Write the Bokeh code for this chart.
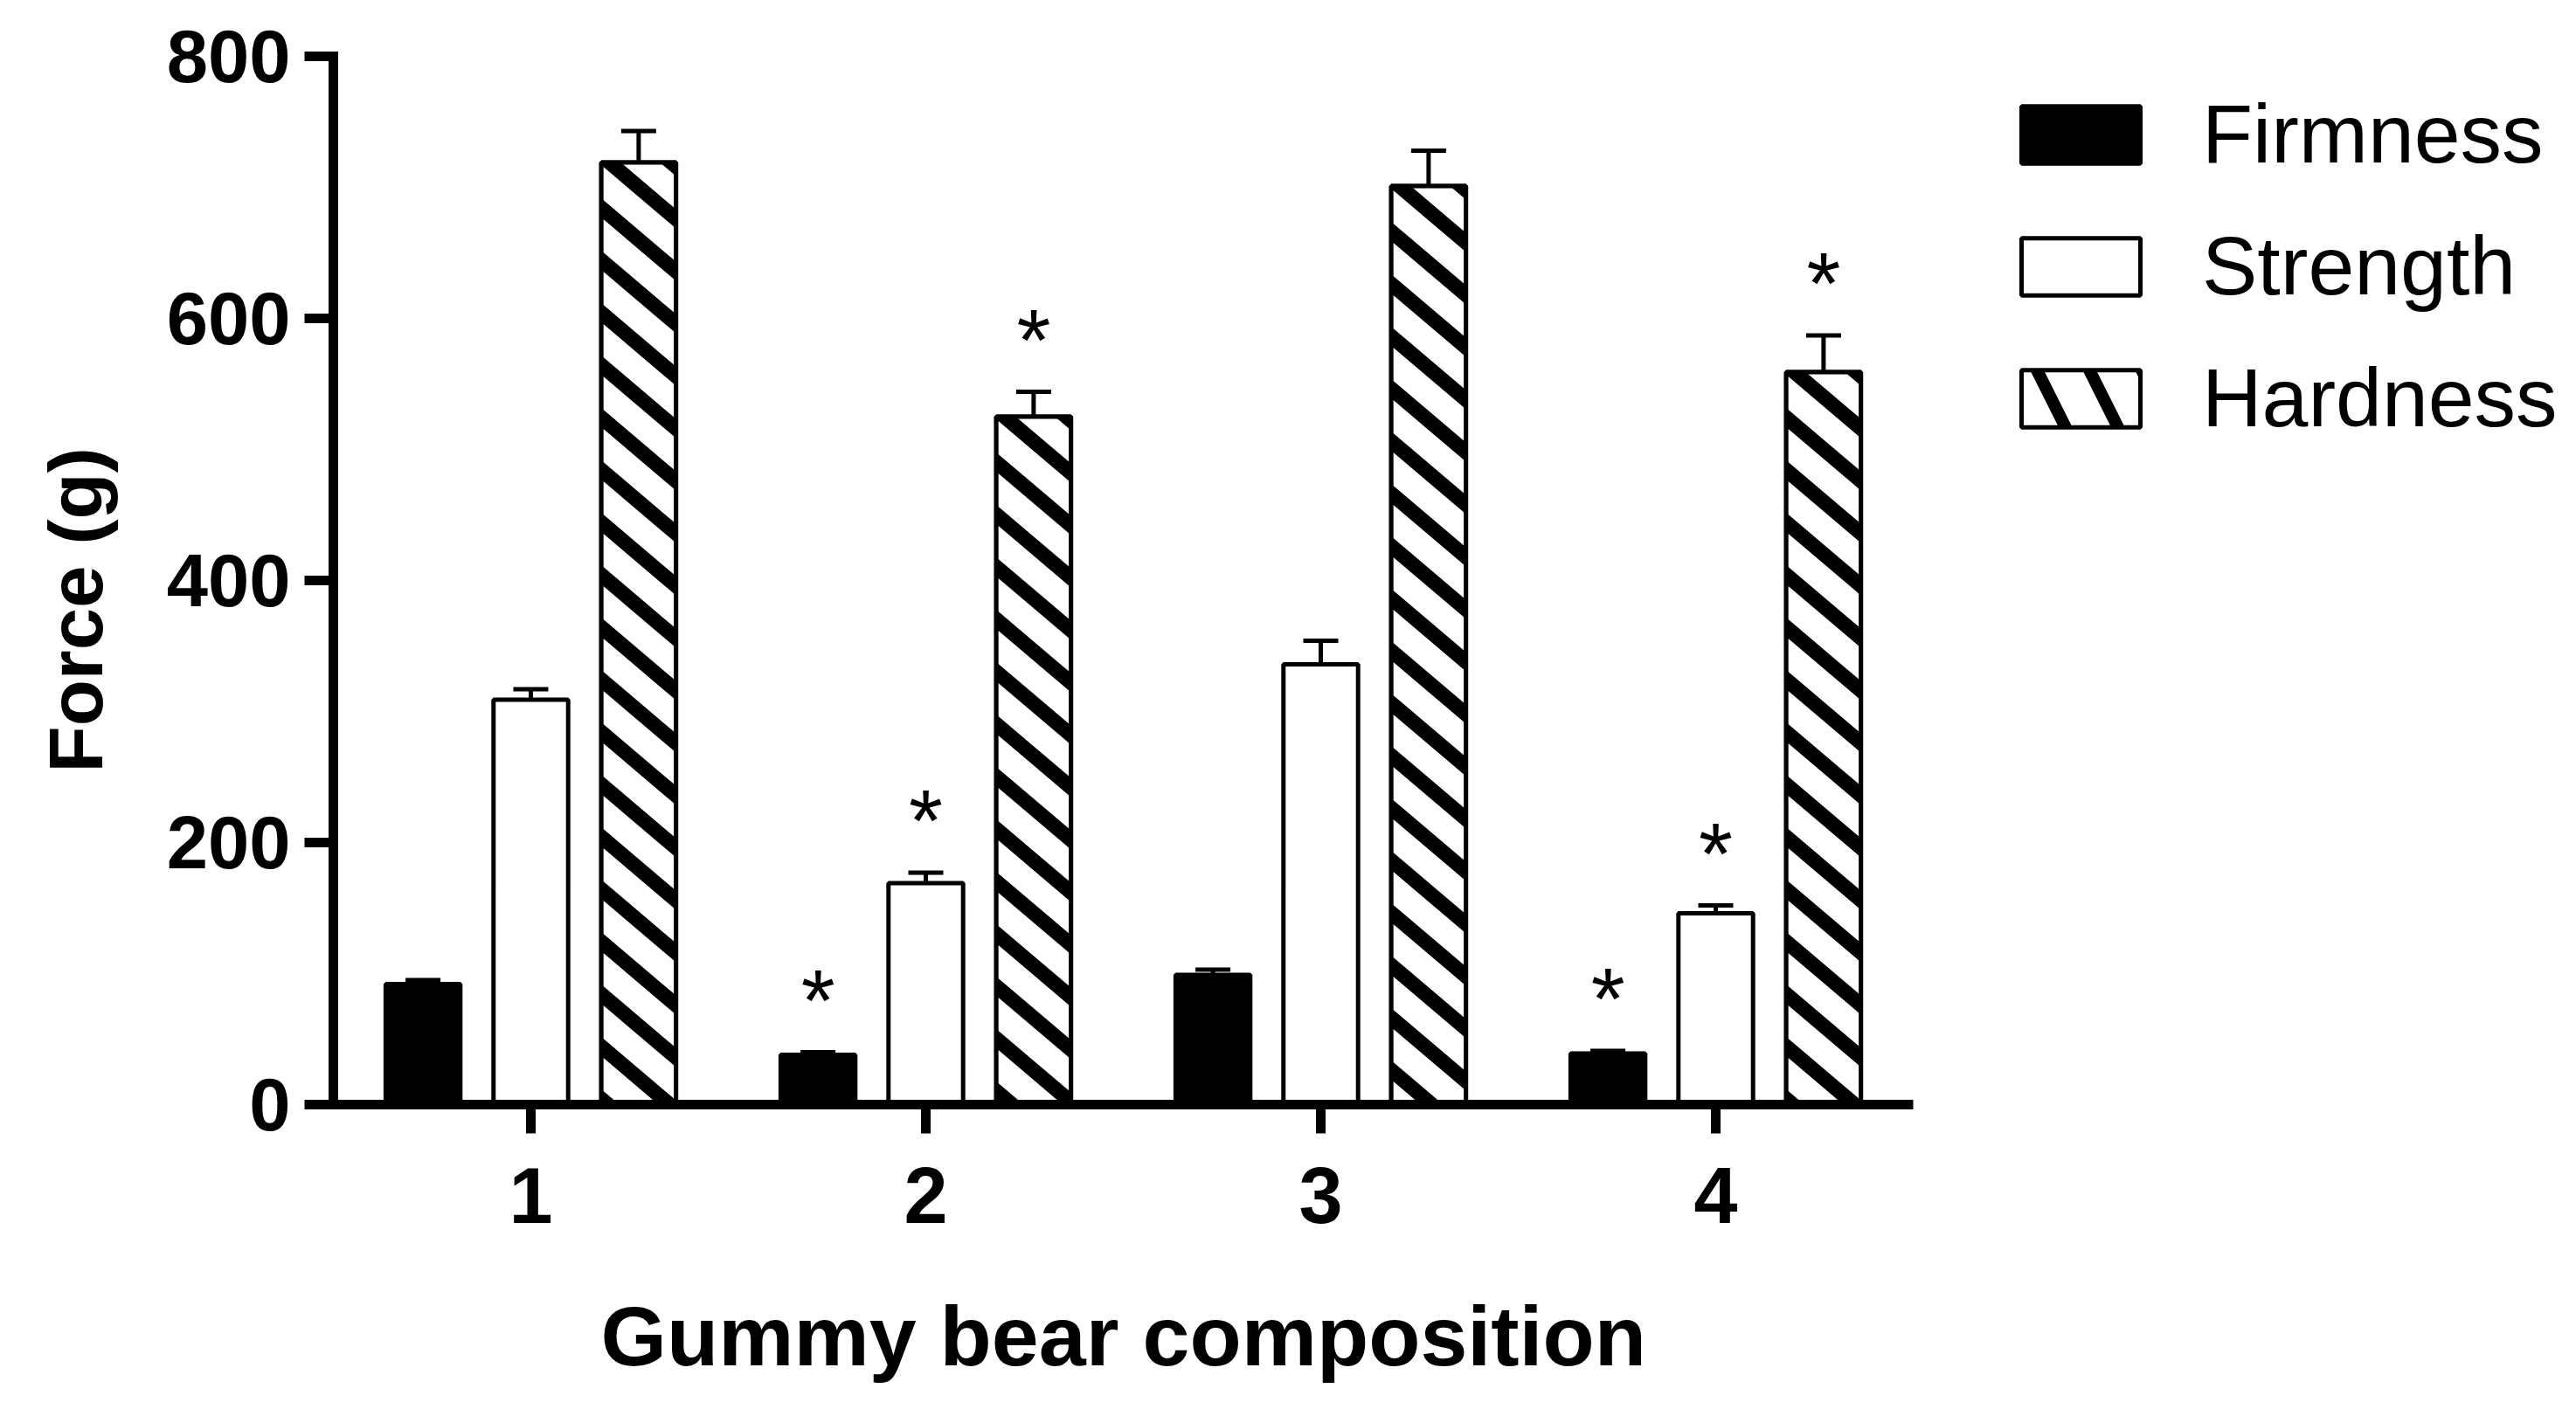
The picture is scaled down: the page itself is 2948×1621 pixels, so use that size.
from bokeh.plotting import figure
from bokeh.models import (ColumnDataSource, Whisker, TeeHead, FixedTicker,
                          Legend, LegendItem, Range1d, Title)
from bokeh.embed import file_html
from bokeh.resources import INLINE
from bokeh.core.properties import value

# ---------------- data ----------------
compositions = [1, 2, 3, 4]
tick_labels = ["1", "2", "3", "4"]
y_ticks = [0, 200, 400, 600, 800]
x_title = "Gummy bear composition"
y_title = "Force (g)"

series_names = ["Firmness", "Strength", "Hardness"]
firmness = [92, 38, 99, 39]
firmness_err = [3, 2, 4, 2]
strength = [309, 169, 336, 146]
strength_err = [8, 8, 18, 6]
hardness = [719, 525, 701, 559]
hardness_err = [24, 19, 27, 28]
# significance markers (*)
firmness_sig = [False, True, False, True]
strength_sig = [False, True, False, True]
hardness_sig = [False, True, False, True]

# ---------------- layout / styling ----------------
FONT = "Liberation Sans"
W, H = 2932, 1605
B_LEFT, B_RIGHT, B_TOP, B_BOTTOM = 381, 0, 64, 341
FRAME_W = W - B_LEFT - B_RIGHT
FRAME_H = H - B_TOP - B_BOTTOM
X0, X_PX = 0.5, 452.0            # axis starts at 0.5, 452 px per category
X1 = X0 + FRAME_W / X_PX
Y0, Y1 = 0, 800
Y_PX = FRAME_H / (Y1 - Y0)
BAR_W = 0.189
OFFSETS = [-0.273, 0.0, 0.273]
STAR_GAP = 40                    # data units above error bar top
HATCH_PERIOD = 60.0              # px, vertical spacing of stripes
HATCH_SLOPE = 0.85               # stripe drop per px to the right
HATCH_HALF = 11.0                # half stripe thickness, vertical px


def clip(poly, f):
    """Keep the part of a convex polygon where f(u, v) >= 0 (f linear)."""
    out = []
    n = len(poly)
    for i in range(n):
        a, b = poly[i], poly[(i + 1) % n]
        fa, fb = f(*a), f(*b)
        if fa >= 0:
            out.append(a)
        if (fa >= 0) != (fb >= 0):
            t = fa / (fa - fb)
            out.append((a[0] + t * (b[0] - a[0]), a[1] + t * (b[1] - a[1])))
    return out


def hatch_polys(x_left, top):
    """Diagonal '\\' stripes inside one bar, in data coordinates."""
    w_px, h_px = BAR_W * X_PX, top * Y_PX
    rect = [(0, 0), (w_px, 0), (w_px, h_px), (0, h_px)]
    xs, ys = [], []
    k = -4
    while True:
        c = h_px + 8 - k * HATCH_PERIOD
        if c + HATCH_HALF < 0:
            break
        lo, hi = c - HATCH_HALF, c + HATCH_HALF
        poly = clip(rect, lambda u, v: HATCH_SLOPE * u + v - lo)
        if poly:
            poly = clip(poly, lambda u, v: hi - HATCH_SLOPE * u - v)
        if len(poly) >= 3:
            xs.append([x_left + u / X_PX for u, v in poly])
            ys.append([v / Y_PX for u, v in poly])
        k += 1
    return xs, ys


p = figure(width=W, height=H,
           x_range=Range1d(X0, X1), y_range=Range1d(Y0, Y1),
           output_backend="svg", toolbar_location=None,
           min_border_left=B_LEFT, min_border_right=B_RIGHT,
           min_border_top=B_TOP, min_border_bottom=B_BOTTOM)
p.xgrid.visible = False
p.ygrid.visible = False
p.outline_line_color = None
p.background_fill_color = "white"
p.border_fill_color = "white"

fills = ["black", "white", "white"]
hatched = [False, False, True]
vals = [firmness, strength, hardness]
errs = [firmness_err, strength_err, hardness_err]
sigs = [firmness_sig, strength_sig, hardness_sig]

legend_items = []
for name, v, e, s, off, fc, hat in zip(series_names, vals, errs, sigs,
                                      OFFSETS, fills, hatched):
    xs = [c + off for c in compositions]
    src = ColumnDataSource(dict(
        x=xs, top=v,
        upper=[a + b for a, b in zip(v, e)],
        lower=[a - b for a, b in zip(v, e)],
    ))
    if hat:
        # patterned copy underneath: supplies the legend swatch
        lr = p.vbar(x="x", top="top", bottom=0, width=BAR_W, source=src,
                    fill_color="white", line_color="black", line_width=5,
                    hatch_pattern="\\", hatch_color="black",
                    hatch_scale=120, hatch_weight=14)
    r = p.vbar(x="x", top="top", bottom=0, width=BAR_W, source=src,
               fill_color=fc, line_color="black", line_width=5)
    if hat:
        hx, hy = [], []
        for x, t in zip(xs, v):
            px_, py_ = hatch_polys(x - BAR_W / 2, t)
            hx += px_
            hy += py_
        p.patches(xs=hx, ys=hy, fill_color="black", line_color=None)
        legend_items.append(LegendItem(label=name, renderers=[lr]))
    else:
        legend_items.append(LegendItem(label=name, renderers=[r]))
    w = Whisker(base="x", upper="upper", lower="lower", source=src,
                line_color="black", line_width=5,
                upper_head=TeeHead(size=40, line_width=5, line_color="black"),
                lower_head=TeeHead(size=40, line_width=5, line_color="black"))
    p.add_layout(w)
    sx = [x for x, flag in zip(xs, s) if flag]
    sy = [a + b + STAR_GAP for a, b, flag in zip(v, e, s) if flag]
    p.text(x=sx, y=sy, text=["*"] * len(sx), text_font=value(FONT),
           text_font_size="100px", text_align="center",
           text_baseline="middle", text_color="black")

# axes
for ax in (p.xaxis[0], p.yaxis[0]):
    ax.axis_line_width = 11
    ax.axis_line_color = "black"
    ax.major_tick_line_width = 11
    ax.major_tick_line_color = "black"
    ax.major_tick_in = 0
    ax.major_tick_out = 33
    ax.minor_tick_line_color = None
    ax.major_label_text_font = FONT
    ax.major_label_text_font_style = "bold"
    ax.major_label_text_color = "black"

p.yaxis[0].axis_line_cap = "square"
p.yaxis.ticker = FixedTicker(ticks=y_ticks)
p.yaxis.major_label_text_font_size = "85px"
p.yaxis.major_label_standoff = 16

p.xaxis.bounds = (X0, X0 + len(compositions))
p.xaxis.ticker = FixedTicker(ticks=compositions)
p.xaxis.major_label_overrides = {c: t for c, t in zip(compositions, tick_labels)}
p.xaxis.major_label_text_font_size = "90px"
p.xaxis.major_label_standoff = 39

# axis titles (positioned relative to the bounded axes); thin spacers first
p.add_layout(Title(text=" ", text_font_size="1px", standoff=69), "below")
p.add_layout(Title(text=x_title, align="left", offset=306,
                   vertical_align="top", standoff=0,
                   text_font=FONT, text_font_size="97px",
                   text_font_style="bold", text_color="black"), "below")
p.add_layout(Title(text=" ", text_font_size="1px", standoff=23), "left")
p.add_layout(Title(text=y_title, align="left", offset=380,
                   vertical_align="bottom", standoff=53,
                   text_font=FONT, text_font_size="87px",
                   text_font_style="bold", text_color="black"), "left")

legend = Legend(items=legend_items, location=(1915, 754),
                glyph_width=170, glyph_height=82, label_standoff=54,
                spacing=42, padding=0, margin=0,
                label_text_font=FONT, label_text_font_size="95px",
                label_text_color="black",
                border_line_color=None, background_fill_alpha=0)
p.add_layout(legend, "center")

open("out.html", "w").write(file_html(p, INLINE))
